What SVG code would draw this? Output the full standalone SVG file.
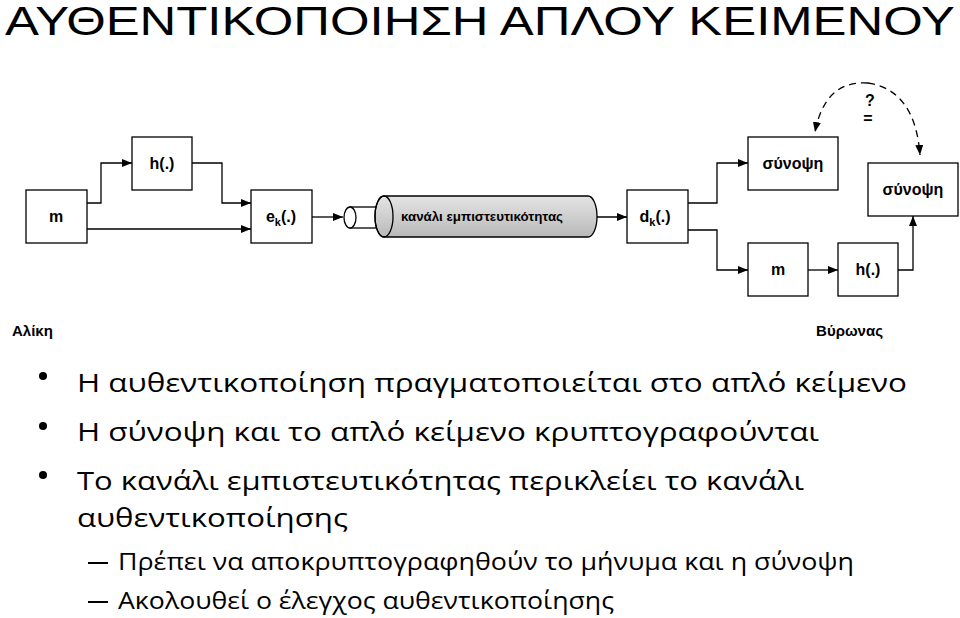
<svg xmlns="http://www.w3.org/2000/svg" width="960" height="618" viewBox="0 0 960 618">
<defs>
<marker id="a" markerWidth="10" markerHeight="8" refX="10" refY="4" orient="auto" markerUnits="userSpaceOnUse"><path d="M0,0 L10,4 L0,8 Z" fill="#000"/></marker>
<linearGradient id="g" x1="0" y1="0" x2="0" y2="1"><stop offset="0" stop-color="#e4e4e4"/><stop offset="0.5" stop-color="#cfcfcf"/><stop offset="1" stop-color="#b8b8b8"/></linearGradient>
<style>
.b{fill:#fff;stroke:#000;stroke-width:1.3}
.l{fill:none;stroke:#000;stroke-width:1.3}
.t{font-family:"Liberation Sans",Arial,sans-serif;font-weight:bold;font-size:16px;text-anchor:middle}
.p{font-family:"Open Sans","Liberation Sans",sans-serif;font-size:25px;fill:#000}
</style>
</defs>
<rect width="960" height="618" fill="#fff"/>
<text x="5" y="35" font-family="Liberation Sans,Arial,sans-serif" font-size="40" textLength="950" lengthAdjust="spacingAndGlyphs">ΑΥΘΕΝΤΙΚΟΠΟΙΗΣΗ ΑΠΛΟΥ ΚΕΙΜΕΝΟΥ</text>
<g id="connectors">
<polyline class="l" points="87,203 101,203 101,163 132,163" marker-end="url(#a)"/>
<line class="l" x1="87" y1="229" x2="251" y2="229" marker-end="url(#a)"/>
<polyline class="l" points="192,163 222,163 222,203 251,203" marker-end="url(#a)"/>
<line class="l" x1="312" y1="217" x2="343" y2="217" marker-end="url(#a)"/>
<line class="l" x1="586" y1="217" x2="627" y2="217" marker-end="url(#a)"/>
<polyline class="l" points="688,203 717,203 717,163 748,163" marker-end="url(#a)"/>
<polyline class="l" points="688,230 717,230 717,270 748,270" marker-end="url(#a)"/>
<line class="l" x1="808" y1="270" x2="838" y2="270" marker-end="url(#a)"/>
<polyline class="l" points="898,270 913,270 913,216" marker-end="url(#a)"/>
<path class="l" d="M868,83 Q825,80 815,132" stroke-dasharray="7,5" marker-end="url(#a)"/>
<path class="l" d="M868,83 Q915,90 920,155" stroke-dasharray="7,5" marker-end="url(#a)"/>
</g>
<g id="n_m"><rect class="b" x="26" y="190" width="61" height="53"/><text class="t" x="56" y="222">m</text></g>
<g id="n_h"><rect class="b" x="132" y="137" width="60" height="53"/><text class="t" x="162" y="169">h(.)</text></g>
<g id="n_ek"><rect class="b" x="251" y="190" width="61" height="53"/><text class="t" x="281" y="222">e<tspan font-size="11" dy="4">k</tspan><tspan dy="-4">(.)</tspan></text></g>
<g id="n_channel">
<rect x="350" y="207" width="35" height="21" fill="#fff" stroke="#000" stroke-width="1.3"/>
<ellipse cx="350" cy="217.5" rx="6" ry="10.5" fill="#fff" stroke="#000" stroke-width="1.3"/>
<path d="M384,196 L588,196 A9,20.5 0 0 1 588,237 L384,237 A9,20.5 0 0 1 384,196 Z" fill="url(#g)" stroke="#000" stroke-width="1.3"/>
<ellipse cx="384" cy="216.5" rx="9" ry="20.5" fill="none" stroke="#000" stroke-width="1.3"/>
<text x="482" y="221" font-family="Liberation Sans,Arial,sans-serif" font-weight="bold" font-size="12" text-anchor="middle" textLength="162" lengthAdjust="spacingAndGlyphs">κανάλι εμπιστευτικότητας</text>
</g>
<g id="n_dk"><rect class="b" x="627" y="190" width="61" height="53"/><text class="t" x="655" y="222">d<tspan font-size="11" dy="4">k</tspan><tspan dy="-4">(.)</tspan></text></g>
<g id="n_s1"><rect class="b" x="748" y="137" width="90" height="53"/><text class="t" x="793" y="169">σύνοψη</text></g>
<g id="n_s2"><rect class="b" x="868" y="163" width="90" height="53"/><text class="t" x="913" y="195">σύνοψη</text></g>
<g id="n_m2"><rect class="b" x="748" y="243" width="60" height="53"/><text class="t" x="778" y="275">m</text></g>
<g id="n_h2"><rect class="b" x="838" y="243" width="60" height="53"/><text class="t" x="868" y="275">h(.)</text></g>
<text class="t" x="870" y="106">?</text>
<text class="t" x="868" y="124" font-size="14">=</text>
<text x="12" y="336" font-family="Liberation Sans,Arial,sans-serif" font-weight="bold" font-size="15">Αλίκη</text>
<text x="883" y="336" font-family="Liberation Sans,Arial,sans-serif" font-weight="bold" font-size="15" text-anchor="end">Βύρωνας</text>
<g class="p">
<circle cx="43" cy="376" r="4"/><circle cx="43" cy="426" r="4"/><circle cx="43" cy="475" r="4"/>
<text x="77" y="392" textLength="830" lengthAdjust="spacingAndGlyphs">Η αυθεντικοποίηση πραγματοποιείται στο απλό κείμενο</text>
<text x="77" y="441" textLength="742" lengthAdjust="spacingAndGlyphs">Η σύνοψη και το απλό κείμενο κρυπτογραφούνται</text>
<text x="77" y="490" textLength="727" lengthAdjust="spacingAndGlyphs">Το κανάλι εμπιστευτικότητας περικλείει το κανάλι</text>
<text x="77" y="527" textLength="271" lengthAdjust="spacingAndGlyphs">αυθεντικοποίησης</text>
<rect x="88" y="562" width="20" height="2"/><rect x="88" y="601" width="20" height="2"/>
<text x="118" y="570" font-size="23" textLength="736" lengthAdjust="spacingAndGlyphs">Πρέπει να αποκρυπτογραφηθούν το μήνυμα και η σύνοψη</text>
<text x="118" y="609" font-size="23" textLength="496" lengthAdjust="spacingAndGlyphs">Ακολουθεί ο έλεγχος αυθεντικοποίησης</text>
</g>
</svg>
